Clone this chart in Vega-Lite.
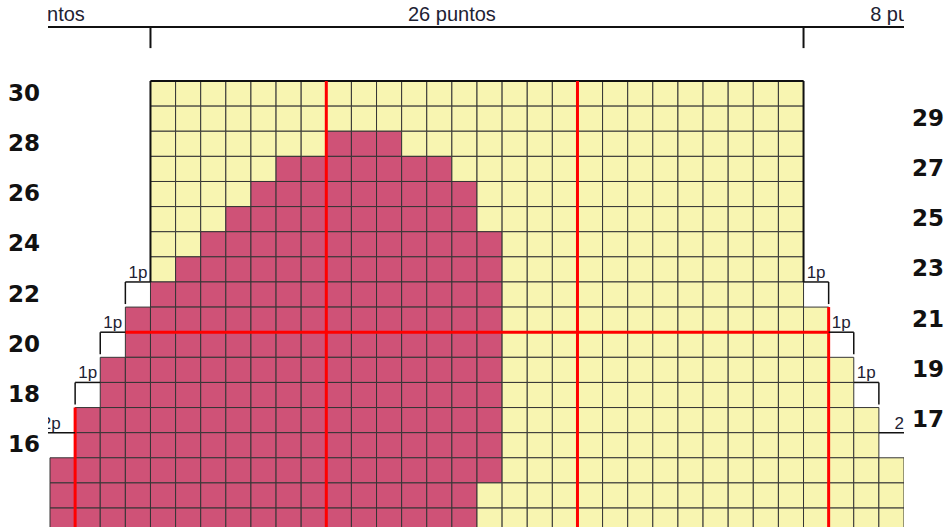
{
"$schema":"https://vega.github.io/schema/vega-lite/v6.json",
"width":856,"height":527,
"autosize":{"type":"none"},
"padding":{"left":48,"right":42,"top":0,"bottom":0},
"background":"white",
"config":{"view":{"stroke":null}},
"datasets":{
"cells":[
{"r":30,"c":4,"k":"Y"},{"r":30,"c":5,"k":"Y"},{"r":30,"c":6,"k":"Y"},{"r":30,"c":7,"k":"Y"},{"r":30,"c":8,"k":"Y"},{"r":30,"c":9,"k":"Y"},{"r":30,"c":10,"k":"Y"},{"r":30,"c":11,"k":"Y"},{"r":30,"c":12,"k":"Y"},{"r":30,"c":13,"k":"Y"},{"r":30,"c":14,"k":"Y"},{"r":30,"c":15,"k":"Y"},{"r":30,"c":16,"k":"Y"},{"r":30,"c":17,"k":"Y"},{"r":30,"c":18,"k":"Y"},{"r":30,"c":19,"k":"Y"},{"r":30,"c":20,"k":"Y"},{"r":30,"c":21,"k":"Y"},{"r":30,"c":22,"k":"Y"},{"r":30,"c":23,"k":"Y"},{"r":30,"c":24,"k":"Y"},{"r":30,"c":25,"k":"Y"},{"r":30,"c":26,"k":"Y"},{"r":30,"c":27,"k":"Y"},{"r":30,"c":28,"k":"Y"},{"r":30,"c":29,"k":"Y"},
{"r":29,"c":4,"k":"Y"},{"r":29,"c":5,"k":"Y"},{"r":29,"c":6,"k":"Y"},{"r":29,"c":7,"k":"Y"},{"r":29,"c":8,"k":"Y"},{"r":29,"c":9,"k":"Y"},{"r":29,"c":10,"k":"Y"},{"r":29,"c":11,"k":"Y"},{"r":29,"c":12,"k":"Y"},{"r":29,"c":13,"k":"Y"},{"r":29,"c":14,"k":"Y"},{"r":29,"c":15,"k":"Y"},{"r":29,"c":16,"k":"Y"},{"r":29,"c":17,"k":"Y"},{"r":29,"c":18,"k":"Y"},{"r":29,"c":19,"k":"Y"},{"r":29,"c":20,"k":"Y"},{"r":29,"c":21,"k":"Y"},{"r":29,"c":22,"k":"Y"},{"r":29,"c":23,"k":"Y"},{"r":29,"c":24,"k":"Y"},{"r":29,"c":25,"k":"Y"},{"r":29,"c":26,"k":"Y"},{"r":29,"c":27,"k":"Y"},{"r":29,"c":28,"k":"Y"},{"r":29,"c":29,"k":"Y"},
{"r":28,"c":4,"k":"Y"},{"r":28,"c":5,"k":"Y"},{"r":28,"c":6,"k":"Y"},{"r":28,"c":7,"k":"Y"},{"r":28,"c":8,"k":"Y"},{"r":28,"c":9,"k":"Y"},{"r":28,"c":10,"k":"Y"},{"r":28,"c":11,"k":"P"},{"r":28,"c":12,"k":"P"},{"r":28,"c":13,"k":"P"},{"r":28,"c":14,"k":"Y"},{"r":28,"c":15,"k":"Y"},{"r":28,"c":16,"k":"Y"},{"r":28,"c":17,"k":"Y"},{"r":28,"c":18,"k":"Y"},{"r":28,"c":19,"k":"Y"},{"r":28,"c":20,"k":"Y"},{"r":28,"c":21,"k":"Y"},{"r":28,"c":22,"k":"Y"},{"r":28,"c":23,"k":"Y"},{"r":28,"c":24,"k":"Y"},{"r":28,"c":25,"k":"Y"},{"r":28,"c":26,"k":"Y"},{"r":28,"c":27,"k":"Y"},{"r":28,"c":28,"k":"Y"},{"r":28,"c":29,"k":"Y"},
{"r":27,"c":4,"k":"Y"},{"r":27,"c":5,"k":"Y"},{"r":27,"c":6,"k":"Y"},{"r":27,"c":7,"k":"Y"},{"r":27,"c":8,"k":"Y"},{"r":27,"c":9,"k":"P"},{"r":27,"c":10,"k":"P"},{"r":27,"c":11,"k":"P"},{"r":27,"c":12,"k":"P"},{"r":27,"c":13,"k":"P"},{"r":27,"c":14,"k":"P"},{"r":27,"c":15,"k":"P"},{"r":27,"c":16,"k":"Y"},{"r":27,"c":17,"k":"Y"},{"r":27,"c":18,"k":"Y"},{"r":27,"c":19,"k":"Y"},{"r":27,"c":20,"k":"Y"},{"r":27,"c":21,"k":"Y"},{"r":27,"c":22,"k":"Y"},{"r":27,"c":23,"k":"Y"},{"r":27,"c":24,"k":"Y"},{"r":27,"c":25,"k":"Y"},{"r":27,"c":26,"k":"Y"},{"r":27,"c":27,"k":"Y"},{"r":27,"c":28,"k":"Y"},{"r":27,"c":29,"k":"Y"},
{"r":26,"c":4,"k":"Y"},{"r":26,"c":5,"k":"Y"},{"r":26,"c":6,"k":"Y"},{"r":26,"c":7,"k":"Y"},{"r":26,"c":8,"k":"P"},{"r":26,"c":9,"k":"P"},{"r":26,"c":10,"k":"P"},{"r":26,"c":11,"k":"P"},{"r":26,"c":12,"k":"P"},{"r":26,"c":13,"k":"P"},{"r":26,"c":14,"k":"P"},{"r":26,"c":15,"k":"P"},{"r":26,"c":16,"k":"P"},{"r":26,"c":17,"k":"Y"},{"r":26,"c":18,"k":"Y"},{"r":26,"c":19,"k":"Y"},{"r":26,"c":20,"k":"Y"},{"r":26,"c":21,"k":"Y"},{"r":26,"c":22,"k":"Y"},{"r":26,"c":23,"k":"Y"},{"r":26,"c":24,"k":"Y"},{"r":26,"c":25,"k":"Y"},{"r":26,"c":26,"k":"Y"},{"r":26,"c":27,"k":"Y"},{"r":26,"c":28,"k":"Y"},{"r":26,"c":29,"k":"Y"},
{"r":25,"c":4,"k":"Y"},{"r":25,"c":5,"k":"Y"},{"r":25,"c":6,"k":"Y"},{"r":25,"c":7,"k":"P"},{"r":25,"c":8,"k":"P"},{"r":25,"c":9,"k":"P"},{"r":25,"c":10,"k":"P"},{"r":25,"c":11,"k":"P"},{"r":25,"c":12,"k":"P"},{"r":25,"c":13,"k":"P"},{"r":25,"c":14,"k":"P"},{"r":25,"c":15,"k":"P"},{"r":25,"c":16,"k":"P"},{"r":25,"c":17,"k":"Y"},{"r":25,"c":18,"k":"Y"},{"r":25,"c":19,"k":"Y"},{"r":25,"c":20,"k":"Y"},{"r":25,"c":21,"k":"Y"},{"r":25,"c":22,"k":"Y"},{"r":25,"c":23,"k":"Y"},{"r":25,"c":24,"k":"Y"},{"r":25,"c":25,"k":"Y"},{"r":25,"c":26,"k":"Y"},{"r":25,"c":27,"k":"Y"},{"r":25,"c":28,"k":"Y"},{"r":25,"c":29,"k":"Y"},
{"r":24,"c":4,"k":"Y"},{"r":24,"c":5,"k":"Y"},{"r":24,"c":6,"k":"P"},{"r":24,"c":7,"k":"P"},{"r":24,"c":8,"k":"P"},{"r":24,"c":9,"k":"P"},{"r":24,"c":10,"k":"P"},{"r":24,"c":11,"k":"P"},{"r":24,"c":12,"k":"P"},{"r":24,"c":13,"k":"P"},{"r":24,"c":14,"k":"P"},{"r":24,"c":15,"k":"P"},{"r":24,"c":16,"k":"P"},{"r":24,"c":17,"k":"P"},{"r":24,"c":18,"k":"Y"},{"r":24,"c":19,"k":"Y"},{"r":24,"c":20,"k":"Y"},{"r":24,"c":21,"k":"Y"},{"r":24,"c":22,"k":"Y"},{"r":24,"c":23,"k":"Y"},{"r":24,"c":24,"k":"Y"},{"r":24,"c":25,"k":"Y"},{"r":24,"c":26,"k":"Y"},{"r":24,"c":27,"k":"Y"},{"r":24,"c":28,"k":"Y"},{"r":24,"c":29,"k":"Y"},
{"r":23,"c":4,"k":"Y"},{"r":23,"c":5,"k":"P"},{"r":23,"c":6,"k":"P"},{"r":23,"c":7,"k":"P"},{"r":23,"c":8,"k":"P"},{"r":23,"c":9,"k":"P"},{"r":23,"c":10,"k":"P"},{"r":23,"c":11,"k":"P"},{"r":23,"c":12,"k":"P"},{"r":23,"c":13,"k":"P"},{"r":23,"c":14,"k":"P"},{"r":23,"c":15,"k":"P"},{"r":23,"c":16,"k":"P"},{"r":23,"c":17,"k":"P"},{"r":23,"c":18,"k":"Y"},{"r":23,"c":19,"k":"Y"},{"r":23,"c":20,"k":"Y"},{"r":23,"c":21,"k":"Y"},{"r":23,"c":22,"k":"Y"},{"r":23,"c":23,"k":"Y"},{"r":23,"c":24,"k":"Y"},{"r":23,"c":25,"k":"Y"},{"r":23,"c":26,"k":"Y"},{"r":23,"c":27,"k":"Y"},{"r":23,"c":28,"k":"Y"},{"r":23,"c":29,"k":"Y"},
{"r":22,"c":4,"k":"P"},{"r":22,"c":5,"k":"P"},{"r":22,"c":6,"k":"P"},{"r":22,"c":7,"k":"P"},{"r":22,"c":8,"k":"P"},{"r":22,"c":9,"k":"P"},{"r":22,"c":10,"k":"P"},{"r":22,"c":11,"k":"P"},{"r":22,"c":12,"k":"P"},{"r":22,"c":13,"k":"P"},{"r":22,"c":14,"k":"P"},{"r":22,"c":15,"k":"P"},{"r":22,"c":16,"k":"P"},{"r":22,"c":17,"k":"P"},{"r":22,"c":18,"k":"Y"},{"r":22,"c":19,"k":"Y"},{"r":22,"c":20,"k":"Y"},{"r":22,"c":21,"k":"Y"},{"r":22,"c":22,"k":"Y"},{"r":22,"c":23,"k":"Y"},{"r":22,"c":24,"k":"Y"},{"r":22,"c":25,"k":"Y"},{"r":22,"c":26,"k":"Y"},{"r":22,"c":27,"k":"Y"},{"r":22,"c":28,"k":"Y"},{"r":22,"c":29,"k":"Y"},
{"r":21,"c":3,"k":"P"},{"r":21,"c":4,"k":"P"},{"r":21,"c":5,"k":"P"},{"r":21,"c":6,"k":"P"},{"r":21,"c":7,"k":"P"},{"r":21,"c":8,"k":"P"},{"r":21,"c":9,"k":"P"},{"r":21,"c":10,"k":"P"},{"r":21,"c":11,"k":"P"},{"r":21,"c":12,"k":"P"},{"r":21,"c":13,"k":"P"},{"r":21,"c":14,"k":"P"},{"r":21,"c":15,"k":"P"},{"r":21,"c":16,"k":"P"},{"r":21,"c":17,"k":"P"},{"r":21,"c":18,"k":"Y"},{"r":21,"c":19,"k":"Y"},{"r":21,"c":20,"k":"Y"},{"r":21,"c":21,"k":"Y"},{"r":21,"c":22,"k":"Y"},{"r":21,"c":23,"k":"Y"},{"r":21,"c":24,"k":"Y"},{"r":21,"c":25,"k":"Y"},{"r":21,"c":26,"k":"Y"},{"r":21,"c":27,"k":"Y"},{"r":21,"c":28,"k":"Y"},{"r":21,"c":29,"k":"Y"},{"r":21,"c":30,"k":"Y"},
{"r":20,"c":3,"k":"P"},{"r":20,"c":4,"k":"P"},{"r":20,"c":5,"k":"P"},{"r":20,"c":6,"k":"P"},{"r":20,"c":7,"k":"P"},{"r":20,"c":8,"k":"P"},{"r":20,"c":9,"k":"P"},{"r":20,"c":10,"k":"P"},{"r":20,"c":11,"k":"P"},{"r":20,"c":12,"k":"P"},{"r":20,"c":13,"k":"P"},{"r":20,"c":14,"k":"P"},{"r":20,"c":15,"k":"P"},{"r":20,"c":16,"k":"P"},{"r":20,"c":17,"k":"P"},{"r":20,"c":18,"k":"Y"},{"r":20,"c":19,"k":"Y"},{"r":20,"c":20,"k":"Y"},{"r":20,"c":21,"k":"Y"},{"r":20,"c":22,"k":"Y"},{"r":20,"c":23,"k":"Y"},{"r":20,"c":24,"k":"Y"},{"r":20,"c":25,"k":"Y"},{"r":20,"c":26,"k":"Y"},{"r":20,"c":27,"k":"Y"},{"r":20,"c":28,"k":"Y"},{"r":20,"c":29,"k":"Y"},{"r":20,"c":30,"k":"Y"},
{"r":19,"c":2,"k":"P"},{"r":19,"c":3,"k":"P"},{"r":19,"c":4,"k":"P"},{"r":19,"c":5,"k":"P"},{"r":19,"c":6,"k":"P"},{"r":19,"c":7,"k":"P"},{"r":19,"c":8,"k":"P"},{"r":19,"c":9,"k":"P"},{"r":19,"c":10,"k":"P"},{"r":19,"c":11,"k":"P"},{"r":19,"c":12,"k":"P"},{"r":19,"c":13,"k":"P"},{"r":19,"c":14,"k":"P"},{"r":19,"c":15,"k":"P"},{"r":19,"c":16,"k":"P"},{"r":19,"c":17,"k":"P"},{"r":19,"c":18,"k":"Y"},{"r":19,"c":19,"k":"Y"},{"r":19,"c":20,"k":"Y"},{"r":19,"c":21,"k":"Y"},{"r":19,"c":22,"k":"Y"},{"r":19,"c":23,"k":"Y"},{"r":19,"c":24,"k":"Y"},{"r":19,"c":25,"k":"Y"},{"r":19,"c":26,"k":"Y"},{"r":19,"c":27,"k":"Y"},{"r":19,"c":28,"k":"Y"},{"r":19,"c":29,"k":"Y"},{"r":19,"c":30,"k":"Y"},{"r":19,"c":31,"k":"Y"},
{"r":18,"c":2,"k":"P"},{"r":18,"c":3,"k":"P"},{"r":18,"c":4,"k":"P"},{"r":18,"c":5,"k":"P"},{"r":18,"c":6,"k":"P"},{"r":18,"c":7,"k":"P"},{"r":18,"c":8,"k":"P"},{"r":18,"c":9,"k":"P"},{"r":18,"c":10,"k":"P"},{"r":18,"c":11,"k":"P"},{"r":18,"c":12,"k":"P"},{"r":18,"c":13,"k":"P"},{"r":18,"c":14,"k":"P"},{"r":18,"c":15,"k":"P"},{"r":18,"c":16,"k":"P"},{"r":18,"c":17,"k":"P"},{"r":18,"c":18,"k":"Y"},{"r":18,"c":19,"k":"Y"},{"r":18,"c":20,"k":"Y"},{"r":18,"c":21,"k":"Y"},{"r":18,"c":22,"k":"Y"},{"r":18,"c":23,"k":"Y"},{"r":18,"c":24,"k":"Y"},{"r":18,"c":25,"k":"Y"},{"r":18,"c":26,"k":"Y"},{"r":18,"c":27,"k":"Y"},{"r":18,"c":28,"k":"Y"},{"r":18,"c":29,"k":"Y"},{"r":18,"c":30,"k":"Y"},{"r":18,"c":31,"k":"Y"},
{"r":17,"c":1,"k":"P"},{"r":17,"c":2,"k":"P"},{"r":17,"c":3,"k":"P"},{"r":17,"c":4,"k":"P"},{"r":17,"c":5,"k":"P"},{"r":17,"c":6,"k":"P"},{"r":17,"c":7,"k":"P"},{"r":17,"c":8,"k":"P"},{"r":17,"c":9,"k":"P"},{"r":17,"c":10,"k":"P"},{"r":17,"c":11,"k":"P"},{"r":17,"c":12,"k":"P"},{"r":17,"c":13,"k":"P"},{"r":17,"c":14,"k":"P"},{"r":17,"c":15,"k":"P"},{"r":17,"c":16,"k":"P"},{"r":17,"c":17,"k":"P"},{"r":17,"c":18,"k":"Y"},{"r":17,"c":19,"k":"Y"},{"r":17,"c":20,"k":"Y"},{"r":17,"c":21,"k":"Y"},{"r":17,"c":22,"k":"Y"},{"r":17,"c":23,"k":"Y"},{"r":17,"c":24,"k":"Y"},{"r":17,"c":25,"k":"Y"},{"r":17,"c":26,"k":"Y"},{"r":17,"c":27,"k":"Y"},{"r":17,"c":28,"k":"Y"},{"r":17,"c":29,"k":"Y"},{"r":17,"c":30,"k":"Y"},{"r":17,"c":31,"k":"Y"},{"r":17,"c":32,"k":"Y"},
{"r":16,"c":1,"k":"P"},{"r":16,"c":2,"k":"P"},{"r":16,"c":3,"k":"P"},{"r":16,"c":4,"k":"P"},{"r":16,"c":5,"k":"P"},{"r":16,"c":6,"k":"P"},{"r":16,"c":7,"k":"P"},{"r":16,"c":8,"k":"P"},{"r":16,"c":9,"k":"P"},{"r":16,"c":10,"k":"P"},{"r":16,"c":11,"k":"P"},{"r":16,"c":12,"k":"P"},{"r":16,"c":13,"k":"P"},{"r":16,"c":14,"k":"P"},{"r":16,"c":15,"k":"P"},{"r":16,"c":16,"k":"P"},{"r":16,"c":17,"k":"P"},{"r":16,"c":18,"k":"Y"},{"r":16,"c":19,"k":"Y"},{"r":16,"c":20,"k":"Y"},{"r":16,"c":21,"k":"Y"},{"r":16,"c":22,"k":"Y"},{"r":16,"c":23,"k":"Y"},{"r":16,"c":24,"k":"Y"},{"r":16,"c":25,"k":"Y"},{"r":16,"c":26,"k":"Y"},{"r":16,"c":27,"k":"Y"},{"r":16,"c":28,"k":"Y"},{"r":16,"c":29,"k":"Y"},{"r":16,"c":30,"k":"Y"},{"r":16,"c":31,"k":"Y"},{"r":16,"c":32,"k":"Y"},
{"r":15,"c":0,"k":"P"},{"r":15,"c":1,"k":"P"},{"r":15,"c":2,"k":"P"},{"r":15,"c":3,"k":"P"},{"r":15,"c":4,"k":"P"},{"r":15,"c":5,"k":"P"},{"r":15,"c":6,"k":"P"},{"r":15,"c":7,"k":"P"},{"r":15,"c":8,"k":"P"},{"r":15,"c":9,"k":"P"},{"r":15,"c":10,"k":"P"},{"r":15,"c":11,"k":"P"},{"r":15,"c":12,"k":"P"},{"r":15,"c":13,"k":"P"},{"r":15,"c":14,"k":"P"},{"r":15,"c":15,"k":"P"},{"r":15,"c":16,"k":"P"},{"r":15,"c":17,"k":"P"},{"r":15,"c":18,"k":"Y"},{"r":15,"c":19,"k":"Y"},{"r":15,"c":20,"k":"Y"},{"r":15,"c":21,"k":"Y"},{"r":15,"c":22,"k":"Y"},{"r":15,"c":23,"k":"Y"},{"r":15,"c":24,"k":"Y"},{"r":15,"c":25,"k":"Y"},{"r":15,"c":26,"k":"Y"},{"r":15,"c":27,"k":"Y"},{"r":15,"c":28,"k":"Y"},{"r":15,"c":29,"k":"Y"},{"r":15,"c":30,"k":"Y"},{"r":15,"c":31,"k":"Y"},{"r":15,"c":32,"k":"Y"},{"r":15,"c":33,"k":"Y"},
{"r":14,"c":0,"k":"P"},{"r":14,"c":1,"k":"P"},{"r":14,"c":2,"k":"P"},{"r":14,"c":3,"k":"P"},{"r":14,"c":4,"k":"P"},{"r":14,"c":5,"k":"P"},{"r":14,"c":6,"k":"P"},{"r":14,"c":7,"k":"P"},{"r":14,"c":8,"k":"P"},{"r":14,"c":9,"k":"P"},{"r":14,"c":10,"k":"P"},{"r":14,"c":11,"k":"P"},{"r":14,"c":12,"k":"P"},{"r":14,"c":13,"k":"P"},{"r":14,"c":14,"k":"P"},{"r":14,"c":15,"k":"P"},{"r":14,"c":16,"k":"P"},{"r":14,"c":17,"k":"Y"},{"r":14,"c":18,"k":"Y"},{"r":14,"c":19,"k":"Y"},{"r":14,"c":20,"k":"Y"},{"r":14,"c":21,"k":"Y"},{"r":14,"c":22,"k":"Y"},{"r":14,"c":23,"k":"Y"},{"r":14,"c":24,"k":"Y"},{"r":14,"c":25,"k":"Y"},{"r":14,"c":26,"k":"Y"},{"r":14,"c":27,"k":"Y"},{"r":14,"c":28,"k":"Y"},{"r":14,"c":29,"k":"Y"},{"r":14,"c":30,"k":"Y"},{"r":14,"c":31,"k":"Y"},{"r":14,"c":32,"k":"Y"},{"r":14,"c":33,"k":"Y"},
{"r":13,"c":0,"k":"P"},{"r":13,"c":1,"k":"P"},{"r":13,"c":2,"k":"P"},{"r":13,"c":3,"k":"P"},{"r":13,"c":4,"k":"P"},{"r":13,"c":5,"k":"P"},{"r":13,"c":6,"k":"P"},{"r":13,"c":7,"k":"P"},{"r":13,"c":8,"k":"P"},{"r":13,"c":9,"k":"P"},{"r":13,"c":10,"k":"P"},{"r":13,"c":11,"k":"P"},{"r":13,"c":12,"k":"P"},{"r":13,"c":13,"k":"P"},{"r":13,"c":14,"k":"P"},{"r":13,"c":15,"k":"P"},{"r":13,"c":16,"k":"P"},{"r":13,"c":17,"k":"Y"},{"r":13,"c":18,"k":"Y"},{"r":13,"c":19,"k":"Y"},{"r":13,"c":20,"k":"Y"},{"r":13,"c":21,"k":"Y"},{"r":13,"c":22,"k":"Y"},{"r":13,"c":23,"k":"Y"},{"r":13,"c":24,"k":"Y"},{"r":13,"c":25,"k":"Y"},{"r":13,"c":26,"k":"Y"},{"r":13,"c":27,"k":"Y"},{"r":13,"c":28,"k":"Y"},{"r":13,"c":29,"k":"Y"},{"r":13,"c":30,"k":"Y"},{"r":13,"c":31,"k":"Y"},{"r":13,"c":32,"k":"Y"},{"r":13,"c":33,"k":"Y"}
],
"outline":[
{"x":3.5,"x2":29.5,"y":30.5,"y2":30.5},
{"x":3.5,"x2":3.5,"y":30.5,"y2":22.5},
{"x":29.5,"x2":29.5,"y":30.5,"y2":22.5}
],
"brackets":[
{"x":2.5,"x2":3.5,"y":22.5,"y2":22.5},{"x":2.5,"x2":2.5,"y":22.5,"y2":21.62},
{"x":1.5,"x2":2.5,"y":20.5,"y2":20.5},{"x":1.5,"x2":1.5,"y":20.5,"y2":19.62},
{"x":0.5,"x2":1.5,"y":18.5,"y2":18.5},{"x":0.5,"x2":0.5,"y":18.5,"y2":17.62},
{"x":-1.5,"x2":0.5,"y":16.5,"y2":16.5},
{"x":29.5,"x2":30.5,"y":22.5,"y2":22.5},{"x":30.5,"x2":30.5,"y":22.5,"y2":21.62},
{"x":30.5,"x2":31.5,"y":20.5,"y2":20.5},{"x":31.5,"x2":31.5,"y":20.5,"y2":19.62},
{"x":31.5,"x2":32.5,"y":18.5,"y2":18.5},{"x":32.5,"x2":32.5,"y":18.5,"y2":17.62},
{"x":32.5,"x2":34.5,"y":16.5,"y2":16.5}
],
"topbracket":[
{"x":-4.5,"x2":37.5,"y":32.65,"y2":32.65},
{"x":3.5,"x2":3.5,"y":32.65,"y2":31.81},
{"x":29.5,"x2":29.5,"y":32.65,"y2":31.81}
],
"red":[
{"x":0.5,"x2":0.5,"y":17.5,"y2":12},
{"x":10.5,"x2":10.5,"y":30.5,"y2":12},
{"x":20.5,"x2":20.5,"y":30.5,"y2":12},
{"x":30.5,"x2":30.5,"y":21.5,"y2":12},
{"x":2.5,"x2":30.5,"y":20.5,"y2":20.5}
],
"boxlabels":[
{"x":3,"y":22.5,"t":"1p"},{"x":2,"y":20.5,"t":"1p"},{"x":1,"y":18.5,"t":"1p"},{"x":-0.45,"y":16.5,"t":"2p"},
{"x":30,"y":22.5,"t":"1p"},{"x":31,"y":20.5,"t":"1p"},{"x":32,"y":18.5,"t":"1p"},{"x":33.5,"y":16.5,"t":"2p"}
],
"titles":[
{"x":-0.64,"t":"8 puntos"},{"x":15.5,"t":"26 puntos"},{"x":33.68,"t":"8 puntos"}
],
"rowsL":[{"r":30},{"r":28},{"r":26},{"r":24},{"r":22},{"r":20},{"r":18},{"r":16}],
"rowsR":[{"r":29},{"r":27},{"r":25},{"r":23},{"r":21},{"r":19},{"r":17}]
},
"layer":[
{"data":{"name":"cells"},
 "mark":{"type":"square","size":631,"opacity":1,"filled":true,"stroke":"#353535","strokeWidth":1,"clip":true},
 "encoding":{
  "x":{"field":"c","type":"quantitative","scale":{"domain":[-0.58,33.5],"nice":false,"zero":false},"axis":null},
  "y":{"field":"r","type":"quantitative","scale":{"domain":[12.745,33.725],"nice":false,"zero":false},"axis":null},
  "fill":{"field":"k","type":"nominal","scale":{"domain":["P","Y"],"range":["#CF5277","#F8F5B1"]},"legend":null}}},
{"data":{"name":"outline"},
 "mark":{"type":"rule","color":"#111111","strokeWidth":2,"clip":true},
 "encoding":{
  "x":{"field":"x","type":"quantitative","scale":{"domain":[-0.58,33.5],"nice":false,"zero":false},"axis":null},
  "x2":{"field":"x2"},
  "y":{"field":"y","type":"quantitative","scale":{"domain":[12.745,33.725],"nice":false,"zero":false},"axis":null},
  "y2":{"field":"y2"}}},
{"data":{"name":"red"},
 "mark":{"type":"rule","color":"#FF0000","strokeWidth":3,"clip":true},
 "encoding":{
  "x":{"field":"x","type":"quantitative","scale":{"domain":[-0.58,33.5],"nice":false,"zero":false},"axis":null},
  "x2":{"field":"x2"},
  "y":{"field":"y","type":"quantitative","scale":{"domain":[12.745,33.725],"nice":false,"zero":false},"axis":null},
  "y2":{"field":"y2"}}},
{"data":{"name":"brackets"},
 "mark":{"type":"rule","color":"#111111","strokeWidth":1.5,"clip":true},
 "encoding":{
  "x":{"field":"x","type":"quantitative","scale":{"domain":[-0.58,33.5],"nice":false,"zero":false},"axis":null},
  "x2":{"field":"x2"},
  "y":{"field":"y","type":"quantitative","scale":{"domain":[12.745,33.725],"nice":false,"zero":false},"axis":null},
  "y2":{"field":"y2"}}},
{"data":{"name":"topbracket"},
 "mark":{"type":"rule","color":"#111111","strokeWidth":2,"clip":true},
 "encoding":{
  "x":{"field":"x","type":"quantitative","scale":{"domain":[-0.58,33.5],"nice":false,"zero":false},"axis":null},
  "x2":{"field":"x2"},
  "y":{"field":"y","type":"quantitative","scale":{"domain":[12.745,33.725],"nice":false,"zero":false},"axis":null},
  "y2":{"field":"y2"}}},
{"data":{"name":"boxlabels"},
 "mark":{"type":"text","font":"Liberation Sans","fontSize":17,"color":"#1e2233","baseline":"alphabetic","align":"center","dy":-4,"clip":true},
 "encoding":{
  "x":{"field":"x","type":"quantitative","scale":{"domain":[-0.58,33.5],"nice":false,"zero":false},"axis":null},
  "y":{"field":"y","type":"quantitative","scale":{"domain":[12.745,33.725],"nice":false,"zero":false},"axis":null},
  "text":{"field":"t"}}},
{"data":{"name":"titles"},
 "mark":{"type":"text","font":"Liberation Sans","fontSize":20,"color":"#1e2233","baseline":"alphabetic","align":"center","clip":true},
 "encoding":{
  "x":{"field":"x","type":"quantitative","scale":{"domain":[-0.58,33.5],"nice":false,"zero":false},"axis":null},
  "y":{"datum":32.89,"type":"quantitative","scale":{"domain":[12.745,33.725],"nice":false,"zero":false},"axis":null},
  "text":{"field":"t"}}},
{"data":{"name":"rowsL"},
 "mark":{"type":"text","font":"DejaVu Sans","fontSize":23,"fontWeight":"bold","color":"#111111","baseline":"middle","align":"center","clip":false},
 "encoding":{
  "x":{"datum":-1.535,"type":"quantitative","scale":{"domain":[-0.58,33.5],"nice":false,"zero":false},"axis":null},
  "y":{"field":"r","type":"quantitative","scale":{"domain":[12.745,33.725],"nice":false,"zero":false},"axis":null},
  "text":{"field":"r"}}},
{"data":{"name":"rowsR"},
 "mark":{"type":"text","font":"DejaVu Sans","fontSize":23,"fontWeight":"bold","color":"#111111","baseline":"middle","align":"center","clip":false},
 "encoding":{
  "x":{"datum":34.46,"type":"quantitative","scale":{"domain":[-0.58,33.5],"nice":false,"zero":false},"axis":null},
  "y":{"field":"r","type":"quantitative","scale":{"domain":[12.745,33.725],"nice":false,"zero":false},"axis":null},
  "text":{"field":"r"}}}
]
}
